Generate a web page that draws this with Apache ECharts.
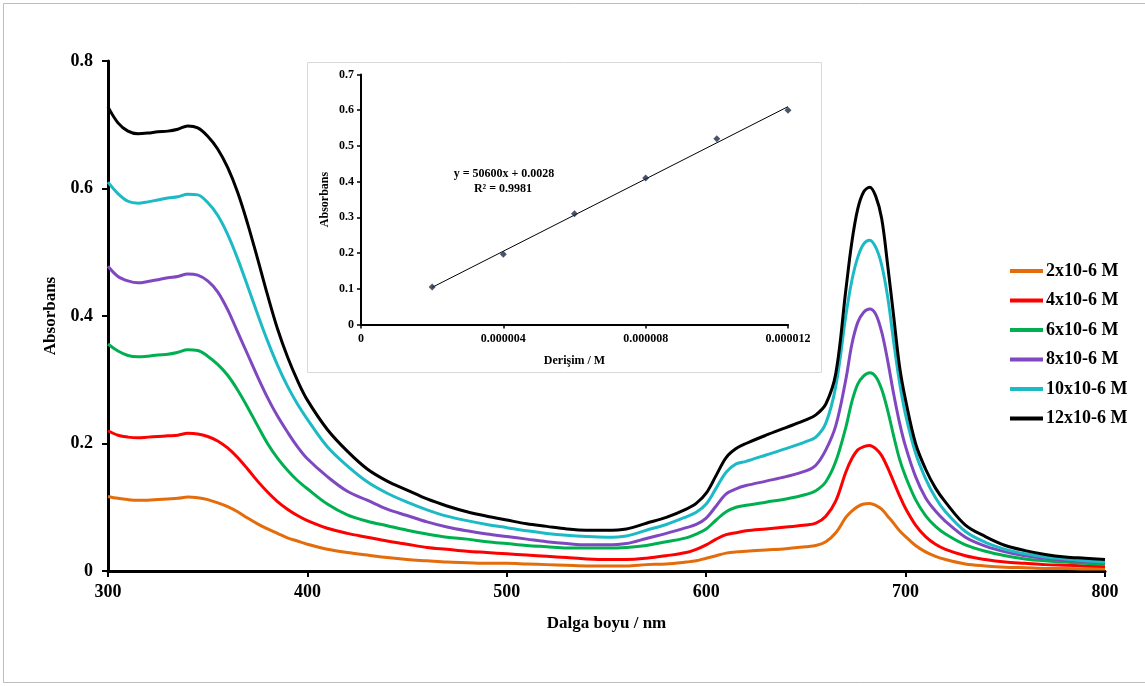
<!DOCTYPE html>
<html>
<head>
<meta charset="utf-8">
<script src="https://cdn.jsdelivr.net/npm/echarts@6/dist/echarts.min.js"></script>
<style>
  html, body { margin: 0; padding: 0; background: #fff; }
  #chart { width: 1145px; height: 686px; }
</style>
</head>
<body>
<div id="chart"></div>
<script>
// Wavelength grid (nm)
const wavelengths = [
  300,305,310,315,320,325,330,335,340,345,350,355,360,365,370,375,380,385,390,395,400,
  410,420,430,440,450,460,470,480,490,500,510,520,530,540,550,560,570,580,590,
  595,600,605,610,615,620,
  630,640,650,
  655,660,665,
  670,673,676,679,682,685,688,691,694,697,700,
  705,710,715,720,
  730,740,750,760,770,780,790,800
];

// Absorbance spectra for each concentration
const abs2 = [
  0.117,0.114,0.112,0.111,0.111,0.112,0.113,0.114,0.116,0.115,0.112,0.107,0.101,0.093,0.083,0.074,0.066,0.059,0.052,0.047,0.042,
  0.034,0.029,0.025,0.021,0.018,0.016,0.014,0.013,0.012,0.012,0.011,0.010,0.009,0.008,0.008,0.008,0.010,0.011,0.014,
  0.016,0.020,0.024,0.028,0.030,0.031,
  0.033,0.035,0.038,
  0.040,0.046,0.060,
  0.084,0.094,0.101,0.105,0.106,0.103,0.097,0.086,0.075,0.063,0.054,
  0.040,0.030,0.023,0.018,
  0.011,0.008,0.006,0.005,0.004,0.004,0.003,0.003
];
const abs4 = [
  0.220,0.213,0.210,0.209,0.210,0.211,0.212,0.213,0.216,0.215,0.211,0.204,0.193,0.178,0.160,0.141,0.124,0.109,0.097,0.087,0.079,
  0.067,0.059,0.053,0.047,0.042,0.037,0.034,0.031,0.029,0.027,0.025,0.023,0.021,0.019,0.018,0.018,0.020,0.024,0.029,
  0.034,0.041,0.050,0.057,0.060,0.063,
  0.066,0.069,0.072,
  0.075,0.086,0.110,
  0.155,0.176,0.190,0.195,0.197,0.192,0.181,0.162,0.140,0.118,0.098,
  0.072,0.054,0.042,0.034,
  0.024,0.018,0.014,0.012,0.010,0.009,0.008,0.007
];
const abs6 = [
  0.356,0.345,0.338,0.336,0.337,0.339,0.340,0.343,0.347,0.346,0.337,0.324,0.307,0.284,0.257,0.228,0.200,0.177,0.158,0.142,0.129,
  0.105,0.088,0.078,0.071,0.064,0.058,0.053,0.050,0.046,0.043,0.040,0.038,0.036,0.036,0.036,0.037,0.040,0.046,0.052,
  0.058,0.066,0.080,0.093,0.100,0.103,
  0.108,0.113,0.120,
  0.126,0.140,0.172,
  0.225,0.265,0.293,0.306,0.311,0.305,0.285,0.252,0.212,0.175,0.148,
  0.112,0.087,0.070,0.058,
  0.041,0.031,0.024,0.019,0.016,0.014,0.012,0.010
];
const abs8 = [
  0.478,0.462,0.455,0.452,0.454,0.457,0.460,0.462,0.466,0.464,0.455,0.438,0.410,0.375,0.340,0.305,0.272,0.243,0.218,0.195,0.176,
  0.148,0.125,0.111,0.097,0.087,0.077,0.069,0.063,0.058,0.054,0.050,0.046,0.043,0.041,0.041,0.043,0.051,0.059,0.068,
  0.073,0.083,0.102,0.121,0.129,0.134,
  0.141,0.148,0.157,
  0.166,0.190,0.228,
  0.300,0.355,0.390,0.406,0.411,0.403,0.375,0.330,0.278,0.232,0.195,
  0.148,0.115,0.094,0.078,
  0.053,0.039,0.030,0.024,0.020,0.017,0.015,0.013
];
const abs10 = [
  0.610,0.592,0.580,0.577,0.579,0.582,0.585,0.587,0.591,0.590,0.578,0.558,0.528,0.490,0.447,0.403,0.361,0.323,0.290,0.262,0.238,
  0.195,0.165,0.140,0.122,0.108,0.096,0.086,0.079,0.073,0.068,0.063,0.059,0.056,0.054,0.053,0.055,0.064,0.073,0.085,
  0.092,0.105,0.130,0.155,0.168,0.172,
  0.182,0.192,0.203,
  0.210,0.232,0.290,
  0.400,0.455,0.492,0.513,0.519,0.508,0.480,0.430,0.360,0.295,0.245,
  0.185,0.145,0.115,0.093,
  0.062,0.045,0.034,0.027,0.022,0.019,0.016,0.014
];
const abs12 = [
  0.728,0.703,0.690,0.686,0.687,0.689,0.690,0.693,0.698,0.695,0.682,0.662,0.633,0.594,0.545,0.490,0.433,0.380,0.336,0.299,0.268,
  0.222,0.188,0.160,0.141,0.127,0.113,0.102,0.093,0.086,0.080,0.074,0.070,0.066,0.064,0.064,0.066,0.075,0.084,0.097,
  0.106,0.122,0.150,0.178,0.192,0.200,
  0.213,0.225,0.237,
  0.245,0.262,0.310,
  0.440,0.515,0.568,0.595,0.602,0.588,0.553,0.480,0.400,0.320,0.268,
  0.200,0.160,0.130,0.108,
  0.072,0.054,0.040,0.032,0.026,0.022,0.020,0.018
];

const seriesNames = ['2x10-6 M','4x10-6 M','6x10-6 M','8x10-6 M','10x10-6 M','12x10-6 M'];
const seriesColors = ['#E46C0A','#FF0000','#00B050','#8048C0','#1CBAC4','#000000'];
const spectra = [abs2, abs4, abs6, abs8, abs10, abs12];

// Calibration: concentration (M) vs. peak absorbance
const concentrations = [0.000002, 0.000004, 0.000006, 0.000008, 0.000010, 0.000012];
const peakAbs = [0.105, 0.197, 0.310, 0.410, 0.520, 0.600];
const fitSlope = 50600;
const fitIntercept = 0.0028;

const mainYTicks = [0, 0.2, 0.4, 0.6, 0.8];
const mainXTicks = [300, 400, 500, 600, 700, 800];

const SERIF = '"Liberation Serif", "Times New Roman", serif';
const chart = echarts.init(document.getElementById('chart'), null, { renderer: 'canvas' });

const fmtTick = v => (v === 0 ? '0' : v.toFixed(1));

const spectrumSeries = spectra.map((vals, i) => ({
  name: seriesNames[i],
  type: 'line',
  xAxisIndex: 0,
  yAxisIndex: 0,
  data: wavelengths.map((w, k) => [w, vals[k]]),
  showSymbol: false,
  symbol: 'none',
  smooth: 0.35,
  lineStyle: { width: 3, color: seriesColors[i] },
  itemStyle: { color: seriesColors[i] },
  z: 3
}));

const fitX = [concentrations[0], concentrations[concentrations.length - 1]];

const option = {
  animation: false,
  backgroundColor: '#ffffff',
  textStyle: { fontFamily: SERIF },
  graphic: [
    {
      type: 'rect', silent: true, z: 0,
      shape: { x: 3.5, y: 3.5, width: 1150, height: 679 },
      style: { fill: 'none', stroke: '#bdbdbd', lineWidth: 1 }
    },
    {
      type: 'rect', silent: true, z: 0,
      shape: { x: 307.5, y: 62.5, width: 514, height: 310 },
      style: { fill: '#ffffff', stroke: '#d9d9d9', lineWidth: 1 }
    },
    {
      type: 'text', silent: true, z: 10,
      x: 504, y: 174,
      style: {
        text: 'y = ' + fitSlope + 'x + ' + fitIntercept,
        font: 'bold 12px ' + SERIF, fill: '#000',
        align: 'center', verticalAlign: 'middle'
      }
    },
    {
      type: 'text', silent: true, z: 10,
      x: 503, y: 189,
      style: {
        text: 'R² = 0.9981',
        font: 'bold 12px ' + SERIF, fill: '#000',
        align: 'center', verticalAlign: 'middle'
      }
    }
  ],
  legend: {
    data: seriesNames,
    orient: 'vertical',
    left: 1010,
    top: 262,
    padding: 0,
    itemWidth: 33,
    itemHeight: 4,
    itemGap: 11.5,
    icon: 'rect',
    textStyle: { fontFamily: SERIF, fontWeight: 'bold', fontSize: 18, color: '#000', padding: [0, 0, 0, -2] }
  },
  grid: [
    { left: 108, top: 61, width: 997, height: 510, containLabel: false },
    { left: 361, top: 74.5, width: 427, height: 250, containLabel: false }
  ],
  xAxis: [
    {
      gridIndex: 0, type: 'value', min: 300, max: 800, interval: 100,
      name: 'Dalga boyu / nm', nameLocation: 'middle', nameGap: 44,
      nameTextStyle: { fontFamily: SERIF, fontWeight: 'bold', fontSize: 17, color: '#000' },
      axisLine: { show: true, onZero: false, lineStyle: { color: '#000', width: 3 } },
      axisTick: { show: true, inside: false, length: 6, lineStyle: { color: '#000', width: 2 } },
      axisLabel: {
        margin: 12, fontFamily: SERIF, fontWeight: 'bold', fontSize: 18, color: '#000',
        formatter: v => (mainXTicks.includes(v) ? String(v) : '')
      },
      splitLine: { show: false }
    },
    {
      gridIndex: 1, type: 'value', min: 0, max: 0.000012, interval: 0.000004,
      name: 'Derişim / M', nameLocation: 'middle', nameGap: 30,
      nameTextStyle: { fontFamily: SERIF, fontWeight: 'bold', fontSize: 12, color: '#000' },
      axisLine: { show: true, onZero: false, lineStyle: { color: '#000', width: 2 } },
      axisTick: { show: true, inside: false, length: 4, lineStyle: { color: '#000', width: 1.5 } },
      axisLabel: {
        margin: 8, fontFamily: SERIF, fontWeight: 'bold', fontSize: 12, color: '#000',
        formatter: v => (v === 0 ? '0' : v.toFixed(6))
      },
      splitLine: { show: false }
    }
  ],
  yAxis: [
    {
      gridIndex: 0, type: 'value', min: 0, max: 0.8, interval: 0.2,
      name: 'Absorbans', nameLocation: 'middle', nameGap: 43, nameRotate: 90,
      nameTextStyle: { fontFamily: SERIF, fontWeight: 'bold', fontSize: 17, color: '#000' },
      axisLine: { show: true, onZero: false, lineStyle: { color: '#000', width: 3 } },
      axisTick: { show: true, inside: false, length: 6, lineStyle: { color: '#000', width: 2 } },
      axisLabel: {
        margin: 15, fontFamily: SERIF, fontWeight: 'bold', fontSize: 18, color: '#000',
        formatter: v => (mainYTicks.some(t => Math.abs(t - v) < 1e-9) ? fmtTick(v) : '')
      },
      splitLine: { show: false }
    },
    {
      gridIndex: 1, type: 'value', min: 0, max: 0.7, interval: 0.1,
      name: 'Absorbans', nameLocation: 'middle', nameGap: 30, nameRotate: 90,
      nameTextStyle: { fontFamily: SERIF, fontWeight: 'bold', fontSize: 12, color: '#000' },
      axisLine: { show: true, onZero: false, lineStyle: { color: '#000', width: 2 } },
      axisTick: { show: true, inside: false, length: 4, lineStyle: { color: '#000', width: 1.5 } },
      axisLabel: {
        margin: 7, fontFamily: SERIF, fontWeight: 'bold', fontSize: 12, color: '#000',
        formatter: fmtTick
      },
      splitLine: { show: false }
    }
  ],
  series: [
    ...spectrumSeries,
    {
      name: 'fit',
      type: 'line',
      xAxisIndex: 1, yAxisIndex: 1,
      data: fitX.map(x => [x, fitSlope * x + fitIntercept]),
      symbol: 'none',
      lineStyle: { color: '#000', width: 1 },
      z: 4
    },
    {
      name: 'points',
      type: 'scatter',
      xAxisIndex: 1, yAxisIndex: 1,
      data: concentrations.map((c, i) => [c, peakAbs[i]]),
      symbol: 'diamond',
      symbolSize: 7,
      itemStyle: { color: '#1b2a48' },
      z: 5
    }
  ]
};

chart.setOption(option);
</script>
</body>
</html>
